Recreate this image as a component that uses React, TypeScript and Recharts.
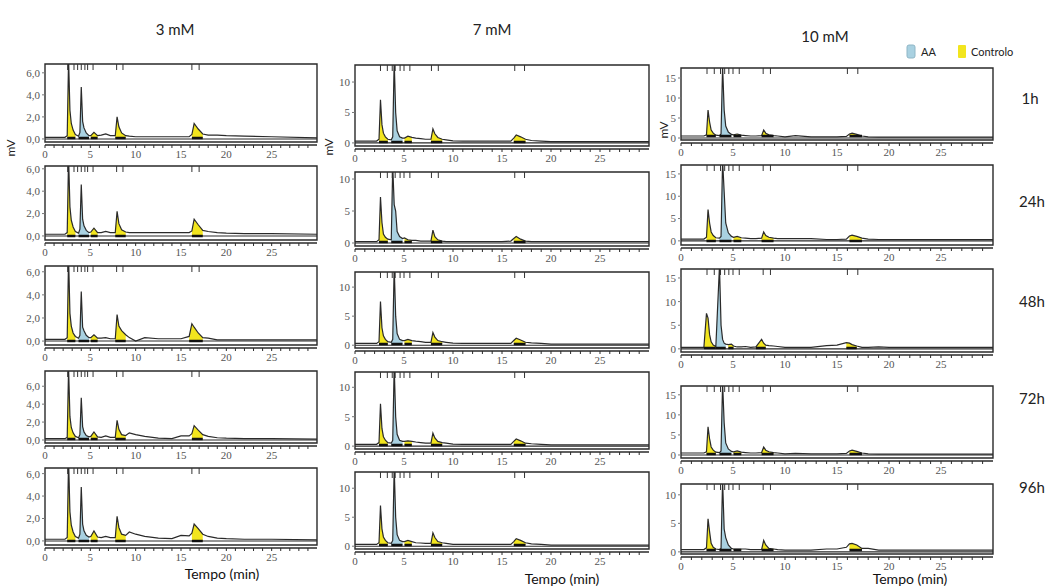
import React from 'react';
import { ComposedChart, Line, Area, XAxis, YAxis, ReferenceLine, ReferenceArea } from 'recharts';

// Retention time grid (min) shared by every chromatogram
const TIMES = [0, 2.2, 2.45, 2.6, 2.75, 2.9, 3.1, 3.35, 3.7, 3.85, 4.0, 4.15, 4.3, 4.55, 4.85, 5.05, 5.4, 5.8, 6.2, 6.7, 7.2, 7.75, 7.95, 8.15, 8.45, 8.9, 9.3, 10, 11, 12.5, 14, 15, 15.9, 16.2, 16.45, 16.9, 17.4, 18, 19, 20, 22, 25, 30];

// Detector signal (mV), 3 mM
const MM3_1H = [0.15, 0.15, 0.3, 7.2, 2.6, 1.4, 0.8, 0.4, 0.25, 0.6, 4.7, 1.6, 1.0, 0.55, 0.3, 0.3, 0.6, 0.3, 0.35, 0.45, 0.3, 0.3, 2.0, 1.1, 0.55, 0.3, 0.25, 0.2, 0.2, 0.2, 0.2, 0.2, 0.2, 0.4, 1.4, 0.9, 0.45, 0.35, 0.35, 0.3, 0.25, 0.2, 0.1];
const MM3_24H = [0.15, 0.15, 0.3, 7.0, 2.6, 1.4, 0.8, 0.4, 0.25, 0.6, 4.6, 1.5, 0.9, 0.5, 0.3, 0.35, 0.7, 0.3, 0.3, 0.4, 0.3, 0.3, 2.2, 1.1, 0.55, 0.35, 0.3, 0.3, 0.3, 0.3, 0.3, 0.3, 0.3, 0.45, 1.5, 1.0, 0.5, 0.4, 0.3, 0.25, 0.2, 0.2, 0.15];
const MM3_48H = [0.15, 0.15, 0.3, 7.2, 2.4, 1.3, 0.7, 0.4, 0.25, 0.5, 4.3, 1.2, 0.9, 0.5, 0.3, 0.3, 0.55, 0.25, 0.25, 0.3, 0.2, 0.2, 2.3, 1.3, 0.9, 0.55, 0.3, 0.0, 0.3, 0.2, 0.2, 0.2, 0.4, 1.5, 1.2, 0.7, 0.3, 0.25, 0.1, 0.1, 0.1, 0.1, 0.1];
const MM3_72H = [0.15, 0.15, 0.3, 8.0, 2.6, 1.4, 0.8, 0.4, 0.25, 0.6, 4.7, 1.5, 0.9, 0.5, 0.35, 0.4, 0.9, 0.35, 0.3, 0.45, 0.3, 0.3, 2.2, 1.2, 0.6, 0.5, 0.8, 0.6, 0.4, 0.2, 0.15, 0.45, 0.45, 0.7, 1.6, 1.1, 0.6, 0.4, 0.25, 0.2, 0.15, 0.15, 0.1];
const MM3_96H = [0.15, 0.15, 0.3, 7.2, 2.6, 1.4, 0.8, 0.4, 0.25, 0.6, 4.8, 1.5, 0.9, 0.5, 0.35, 0.4, 0.9, 0.35, 0.3, 0.4, 0.3, 0.3, 2.2, 1.2, 0.6, 0.5, 0.8, 0.6, 0.4, 0.25, 0.2, 0.5, 0.45, 0.7, 1.5, 1.1, 0.6, 0.4, 0.25, 0.2, 0.15, 0.15, 0.1];

// Detector signal (mV), 7 mM
const MM7_1H = [0.3, 0.3, 0.6, 7.1, 3.0, 1.6, 1.0, 0.6, 0.5, 1.0, 13.5, 5.0, 2.0, 1.0, 0.8, 0.8, 1.1, 0.9, 0.8, 0.7, 0.6, 0.6, 2.3, 1.5, 0.9, 0.6, 0.5, 0.35, 0.3, 0.3, 0.3, 0.3, 0.3, 0.8, 1.3, 1.0, 0.6, 0.4, 0.3, 0.2, 0.2, 0.2, 0.2];
const MM7_24H = [0.2, 0.2, 0.5, 7.2, 3.2, 1.4, 0.9, 0.6, 0.5, 12.0, 6.0, 5.0, 1.8, 1.0, 0.7, 0.8, 0.5, 0.4, 0.4, 0.3, 0.3, 0.3, 2.0, 1.0, 0.5, 0.3, 0.2, 0.2, 0.2, 0.2, 0.2, 0.2, 0.3, 0.7, 1.0, 0.6, 0.3, 0.2, 0.2, 0.2, 0.2, 0.2, 0.2];
const MM7_48H = [0.3, 0.3, 0.6, 7.5, 3.0, 1.6, 1.0, 0.6, 0.5, 1.0, 13.5, 5.0, 2.0, 1.0, 0.8, 0.8, 1.0, 0.8, 0.7, 0.6, 0.5, 0.5, 2.2, 1.4, 0.8, 0.6, 0.5, 0.35, 0.3, 0.3, 0.3, 0.3, 0.3, 0.8, 1.2, 0.9, 0.5, 0.4, 0.3, 0.2, 0.2, 0.2, 0.2];
const MM7_72H = [0.3, 0.3, 0.6, 7.2, 3.0, 1.6, 1.0, 0.6, 0.5, 1.0, 13.5, 5.0, 2.0, 1.0, 0.8, 0.8, 0.9, 0.8, 0.7, 0.6, 0.5, 0.5, 2.2, 1.4, 0.8, 0.6, 0.5, 0.35, 0.3, 0.3, 0.3, 0.3, 0.3, 0.8, 1.2, 0.9, 0.5, 0.4, 0.3, 0.2, 0.2, 0.2, 0.2];
const MM7_96H = [0.3, 0.3, 0.6, 7.0, 3.0, 1.6, 1.0, 0.6, 0.5, 1.0, 13.5, 5.0, 2.0, 1.0, 0.8, 0.8, 1.0, 0.8, 0.6, 0.55, 0.5, 0.5, 2.3, 1.5, 0.8, 0.6, 0.5, 0.3, 0.3, 0.3, 0.3, 0.3, 0.3, 0.8, 1.3, 1.0, 0.6, 0.4, 0.3, 0.2, 0.2, 0.2, 0.2];

// Detector signal (mV), 10 mM
const MM10_1H = [0.5, 0.5, 0.8, 7.0, 4.0, 2.0, 1.2, 0.7, 0.6, 1.0, 18.0, 7.0, 3.0, 1.5, 0.9, 0.8, 1.0, 0.7, 0.6, 0.5, 0.5, 0.6, 2.0, 1.2, 0.8, 0.6, 0.5, 0.3, 0.6, 0.3, 0.3, 0.3, 0.4, 1.0, 1.2, 0.9, 0.5, 0.3, 0.2, 0.2, 0.2, 0.2, 0.2];
const MM10_24H = [0.4, 0.4, 0.8, 7.0, 4.0, 2.0, 1.2, 0.7, 0.6, 1.0, 18.0, 11.0, 4.0, 1.8, 1.0, 0.8, 1.0, 0.7, 0.6, 0.5, 0.5, 0.6, 2.0, 1.2, 0.8, 0.6, 0.5, 0.5, 0.5, 0.5, 0.3, 0.3, 0.4, 1.1, 1.3, 1.0, 0.6, 0.4, 0.3, 0.3, 0.3, 0.3, 0.3];
const MM10_48H = [0.3, 0.3, 7.5, 6.5, 3.0, 1.5, 0.8, 0.5, 17.5, 5.0, 2.0, 1.2, 1.0, 0.9, 1.0, 0.6, 0.4, 0.4, 0.5, 0.3, 0.4, 2.0, 1.2, 0.8, 0.7, 0.6, 0.5, 0.3, 0.3, 0.3, 0.7, 0.8, 1.3, 1.2, 0.9, 0.6, 0.3, 0.3, 0.4, 0.3, 0.3, 0.3, 0.3];
const MM10_72H = [0.5, 0.5, 0.8, 7.0, 4.0, 2.0, 1.2, 0.7, 0.6, 1.0, 18.0, 8.0, 3.0, 1.5, 0.9, 0.8, 1.0, 0.7, 0.6, 0.5, 0.5, 0.6, 2.0, 1.2, 0.8, 0.6, 0.5, 0.3, 0.4, 0.3, 0.3, 0.3, 0.4, 1.0, 1.2, 0.9, 0.5, 0.3, 0.2, 0.2, 0.2, 0.2, 0.2];
const MM10_96H = [0.4, 0.4, 0.7, 5.8, 3.5, 1.5, 0.8, 0.5, 0.4, 0.6, 12.5, 4.0, 2.5, 1.2, 0.6, 0.5, 0.5, 0.5, 0.5, 0.4, 0.4, 0.4, 2.0, 1.2, 0.6, 0.5, 0.4, 0.3, 0.3, 0.3, 0.5, 0.5, 0.8, 1.4, 1.5, 1.2, 0.6, 0.6, 0.3, 0.3, 0.3, 0.3, 0.3];

// Integration windows (min): Controlo peaks and the AA peak
const CONTROL_WINDOWS = [[2.45, 3.35], [5.05, 5.8], [7.75, 8.9], [16.2, 17.4]];
const CONTROL_WINDOWS_LATE5 = [[2.45, 3.35], [5.05, 5.8], [7.75, 8.9], [15.9, 17.4]];
const CONTROL_WINDOWS_EARLY = [[2.2, 3.35], [4.55, 5.05], [7.2, 8.15], [15.9, 16.9]];
const AA_WINDOWS = [[3.7, 4.85]];
const AA_WINDOWS_EARLY = [[3.35, 4.3]];

// Peak-event marks along the top of each trace
const EVENTS_3MM = [2.5, 3.2, 3.6, 4.0, 4.4, 4.7, 5.3, 7.9, 8.6, 16.2, 17.0];
const EVENTS_7MM = [2.6, 3.3, 3.8, 4.1, 4.6, 5.0, 5.6, 7.8, 8.5, 16.3, 17.3];
const EVENTS_10MM = [2.5, 3.2, 3.8, 4.2, 4.6, 5.0, 5.6, 7.9, 8.6, 16.0, 17.0];

// Axis ticks
const X_TICKS = [0, 1, 2, 3, 4, 5, 6, 7, 8, 9, 10, 11, 12, 13, 14, 15, 16, 17, 18, 19, 20, 21, 22, 23, 24, 25, 26, 27, 28, 29];
const X_LABELLED = [0, 5, 10, 15, 20, 25];
const Y_TICKS_3MM = [0, 2, 4, 6];
const Y_TICKS_7MM = [0, 5, 10];
const Y_TICKS_10MM = [0, 5, 10, 15];
const Y_TICKS_10MM_LOW = [0, 5, 10];

const CONCENTRATIONS = ['3 mM', '7 mM', '10 mM'];
const TIMEPOINTS = ['1h', '24h', '48h', '72h', '96h'];

type Panel = {
  values: number[];
  control: number[][];
  aa: number[][];
  events: number[];
  yTicks: number[];
  decimals: boolean;
};

const PANELS: Panel[] = [
  { values: MM3_1H, control: CONTROL_WINDOWS, aa: AA_WINDOWS, events: EVENTS_3MM, yTicks: Y_TICKS_3MM, decimals: true },
  { values: MM3_24H, control: CONTROL_WINDOWS, aa: AA_WINDOWS, events: EVENTS_3MM, yTicks: Y_TICKS_3MM, decimals: true },
  { values: MM3_48H, control: CONTROL_WINDOWS_LATE5, aa: AA_WINDOWS, events: EVENTS_3MM, yTicks: Y_TICKS_3MM, decimals: true },
  { values: MM3_72H, control: CONTROL_WINDOWS, aa: AA_WINDOWS, events: EVENTS_3MM, yTicks: Y_TICKS_3MM, decimals: true },
  { values: MM3_96H, control: CONTROL_WINDOWS, aa: AA_WINDOWS, events: EVENTS_3MM, yTicks: Y_TICKS_3MM, decimals: true },
  { values: MM7_1H, control: CONTROL_WINDOWS, aa: AA_WINDOWS, events: EVENTS_7MM, yTicks: Y_TICKS_7MM, decimals: false },
  { values: MM7_24H, control: CONTROL_WINDOWS, aa: AA_WINDOWS, events: EVENTS_7MM, yTicks: Y_TICKS_7MM, decimals: false },
  { values: MM7_48H, control: CONTROL_WINDOWS, aa: AA_WINDOWS, events: EVENTS_7MM, yTicks: Y_TICKS_7MM, decimals: false },
  { values: MM7_72H, control: CONTROL_WINDOWS, aa: AA_WINDOWS, events: EVENTS_7MM, yTicks: Y_TICKS_7MM, decimals: false },
  { values: MM7_96H, control: CONTROL_WINDOWS, aa: AA_WINDOWS, events: EVENTS_7MM, yTicks: Y_TICKS_7MM, decimals: false },
  { values: MM10_1H, control: CONTROL_WINDOWS, aa: AA_WINDOWS, events: EVENTS_10MM, yTicks: Y_TICKS_10MM, decimals: false },
  { values: MM10_24H, control: CONTROL_WINDOWS, aa: AA_WINDOWS, events: EVENTS_10MM, yTicks: Y_TICKS_10MM, decimals: false },
  { values: MM10_48H, control: CONTROL_WINDOWS_EARLY, aa: AA_WINDOWS_EARLY, events: EVENTS_10MM, yTicks: Y_TICKS_10MM, decimals: false },
  { values: MM10_72H, control: CONTROL_WINDOWS, aa: AA_WINDOWS, events: EVENTS_10MM, yTicks: Y_TICKS_10MM, decimals: false },
  { values: MM10_96H, control: CONTROL_WINDOWS, aa: AA_WINDOWS, events: EVENTS_10MM, yTicks: Y_TICKS_10MM_LOW, decimals: false },
];

// Plot-area placement (page px) and visible signal range of each panel
const LAYOUT = [
  { left: 45, top: 64, width: 272, height: 81, yMin: -0.55, yMax: 6.8 },
  { left: 45, top: 166, width: 272, height: 77, yMin: -0.63, yMax: 6.25 },
  { left: 45, top: 266, width: 272, height: 82, yMin: -0.6, yMax: 6.5 },
  { left: 45, top: 371, width: 272, height: 75, yMin: -0.67, yMax: 7.7 },
  { left: 45, top: 468, width: 272, height: 80, yMin: -0.63, yMax: 6.5 },
  { left: 355, top: 65, width: 294, height: 84, yMin: -1.0, yMax: 12.8 },
  { left: 355, top: 172, width: 294, height: 77, yMin: -0.94, yMax: 11.1 },
  { left: 355, top: 272, width: 294, height: 79, yMin: -1.0, yMax: 12.6 },
  { left: 355, top: 372, width: 294, height: 80, yMin: -1.0, yMax: 12.6 },
  { left: 355, top: 472, width: 294, height: 80, yMin: -1.0, yMax: 12.8 },
  { left: 681, top: 68, width: 312, height: 75, yMin: -1.25, yMax: 17.5 },
  { left: 681, top: 165, width: 312, height: 83, yMin: -1.6, yMax: 17 },
  { left: 681, top: 269, width: 312, height: 86, yMin: -1.3, yMax: 16.9 },
  { left: 681, top: 386, width: 312, height: 75, yMin: -1.5, yMax: 17.2 },
  { left: 681, top: 484, width: 312, height: 73, yMin: -0.9, yMax: 11.9 },
];

const X_MAX = 30;
const Y_AXIS_W = 38;
const X_AXIS_H = 18;
const PAD_TOP = 4;
const PAD_RIGHT = 6;

const YELLOW = '#f2e51e';
const BLUE = '#a9d1e1';
const INK = '#2a2a2a';
const TICK_FONT = { fontSize: 11, fill: '#555', fontFamily: 'Liberation Serif, serif' };
const LABEL_FONT = 'Lato, "Open Sans", sans-serif';

const inside = (t: number, windows: number[][]) =>
  windows.some(([a, b]) => t >= a - 1e-9 && t <= b + 1e-9);

function Chromatogram({ panel, box }: { panel: Panel; box: typeof LAYOUT[number] }) {
  const rows = TIMES.map((t, i) => ({
    t,
    v: panel.values[i],
    ctrl: inside(t, panel.control) ? panel.values[i] : null,
    aa: inside(t, panel.aa) ? panel.values[i] : null,
  }));
  const perPx = (box.yMax - box.yMin) / box.height;
  const frameBottom = box.yMin + 3 * perPx;
  const barLevel = box.yMin + 7 * perPx;
  const markEnd = box.yMax - 6 * perPx;
  const yFmt = (v: number) => (panel.decimals ? v.toFixed(1).replace('.', ',') : String(v));

  return (
    <div
      style={{
        position: 'absolute',
        left: box.left - Y_AXIS_W,
        top: box.top - PAD_TOP,
      }}
    >
      <ComposedChart
        width={box.width + Y_AXIS_W + PAD_RIGHT}
        height={box.height + PAD_TOP + X_AXIS_H}
        data={rows}
        margin={{ top: PAD_TOP, right: PAD_RIGHT, bottom: 0, left: 0 }}
      >
        <XAxis
          dataKey="t"
          type="number"
          domain={[0, X_MAX]}
          ticks={X_TICKS}
          interval={0}
          tickFormatter={(v: number) => (X_LABELLED.includes(v) ? String(v) : '')}
          tick={TICK_FONT}
          tickSize={3}
          tickLine={{ stroke: INK }}
          axisLine={{ stroke: INK, strokeWidth: 1.3 }}
          height={X_AXIS_H}
        />
        <YAxis
          type="number"
          domain={[box.yMin, box.yMax]}
          allowDataOverflow
          ticks={panel.yTicks}
          interval={0}
          tickFormatter={yFmt}
          tick={TICK_FONT}
          tickSize={3}
          tickLine={{ stroke: '#777' }}
          axisLine={false}
          width={Y_AXIS_W}
        />
        <Area
          dataKey="ctrl"
          type="linear"
          baseValue={barLevel}
          fill={YELLOW}
          fillOpacity={1}
          stroke="none"
          connectNulls={false}
          isAnimationActive={false}
        />
        <Area
          dataKey="aa"
          type="linear"
          baseValue={barLevel}
          fill={BLUE}
          fillOpacity={1}
          stroke="none"
          connectNulls={false}
          isAnimationActive={false}
        />
        <ReferenceLine y={0} stroke={INK} strokeWidth={1.1} />
        <Line
          dataKey="v"
          type="linear"
          stroke={INK}
          strokeWidth={1.2}
          dot={false}
          isAnimationActive={false}
        />
        {[...panel.control, ...panel.aa].map(([a, b], i) => (
          <ReferenceLine
            key={'bar' + i}
            segment={[{ x: a, y: barLevel }, { x: b, y: barLevel }]}
            stroke="#111"
            strokeWidth={2.5}
          />
        ))}
        {panel.events.map((t, i) => (
          <ReferenceLine
            key={'ev' + i}
            segment={[{ x: t, y: box.yMax }, { x: t, y: markEnd }]}
            stroke="#333"
            strokeWidth={1}
          />
        ))}
        <ReferenceArea
          x1={0}
          x2={X_MAX}
          y1={frameBottom}
          y2={box.yMax}
          fill="none"
          fillOpacity={0}
          stroke={INK}
          strokeWidth={1.4}
        />
      </ComposedChart>
    </div>
  );
}

// Column title, side labels and legend placement
const TITLE_POS = [
  { x: 175, y: 35 },
  { x: 492, y: 35 },
  { x: 825, y: 42 },
];
const ROW_LABEL_POS = [
  { x: 1030, y: 104 },
  { x: 1032, y: 207 },
  { x: 1032, y: 307 },
  { x: 1032, y: 404 },
  { x: 1032, y: 493 },
];
const MV_POS = [
  { x: 15, y: 148 },
  { x: 333, y: 147 },
  { x: 668, y: 130 },
];
const TEMPO_POS = [
  { x: 222, y: 579 },
  { x: 562, y: 584 },
  { x: 910, y: 584 },
];

export default function App() {
  return (
    <div
      style={{
        position: 'absolute',
        left: 0,
        top: 0,
        width: 1051,
        height: 587,
        background: '#fff',
        overflow: 'hidden',
      }}
    >
      {PANELS.map((p, i) => (
        <Chromatogram key={i} panel={p} box={LAYOUT[i]} />
      ))}
      <svg
        width={1051}
        height={587}
        style={{ position: 'absolute', left: 0, top: 0, pointerEvents: 'none' }}
      >
        {CONCENTRATIONS.map((c, i) => (
          <text key={c} x={TITLE_POS[i].x} y={TITLE_POS[i].y} textAnchor="middle" fontFamily={LABEL_FONT} fontSize={15} fill="#222">
            {c}
          </text>
        ))}
        {TIMEPOINTS.map((h, i) => (
          <text key={h} x={ROW_LABEL_POS[i].x} y={ROW_LABEL_POS[i].y} textAnchor="middle" fontFamily={LABEL_FONT} fontSize={15} fill="#222">
            {h}
          </text>
        ))}
        {MV_POS.map((p, i) => (
          <text key={'mv' + i} x={p.x} y={p.y} textAnchor="middle" fontFamily={LABEL_FONT} fontSize={12} fill="#222" transform={`rotate(-90 ${p.x} ${p.y})`}>
            mV
          </text>
        ))}
        {TEMPO_POS.map((p, i) => (
          <text key={'tp' + i} x={p.x} y={p.y} textAnchor="middle" fontFamily={LABEL_FONT} fontSize={14} fill="#111">
            Tempo (min)
          </text>
        ))}
        <rect x={907} y={45} width={8} height={13} rx={2} fill={BLUE} stroke="#8fb6c6" />
        <text x={921} y={56} fontFamily={LABEL_FONT} fontSize={11} fill="#222">AA</text>
        <rect x={958} y={45} width={8} height={13} rx={1} fill={YELLOW} />
        <text x={971} y={56} fontFamily={LABEL_FONT} fontSize={11} fill="#222">Controlo</text>
      </svg>
    </div>
  );
}
